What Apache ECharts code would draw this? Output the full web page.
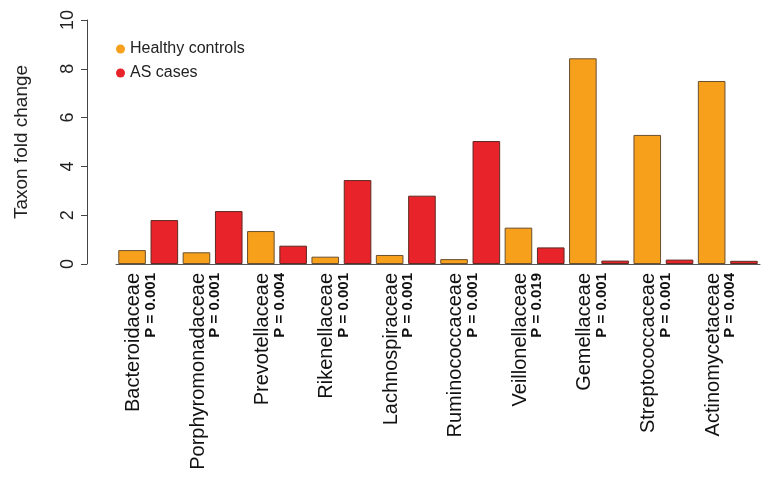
<!DOCTYPE html>
<html>
<head>
<meta charset="utf-8">
<script src="https://cdn.jsdelivr.net/npm/echarts@6/dist/echarts.min.js"></script>
<style>
  html, body { margin: 0; padding: 0; background: #fff; }
  #chart { width: 772px; height: 477px; }
</style>
</head>
<body>
<div id="chart"></div>
<script>
// Bacterial families and their P values
const families = ['Bacteroidaceae', 'Porphyromonadaceae', 'Prevotellaceae', 'Rikenellaceae',
  'Lachnospiraceae', 'Ruminococcaceae', 'Veillonellaceae', 'Gemellaceae',
  'Streptococcaceae', 'Actinomycetaceae'];
const pValues = ['0.001', '0.001', '0.004', '0.001', '0.001', '0.001', '0.019', '0.001', '0.001', '0.004'];

// Taxon fold change per group
const healthyControls = [0.57, 0.48, 1.35, 0.30, 0.37, 0.20, 1.49, 8.43, 5.29, 7.50];
const asCases = [1.80, 2.17, 0.75, 3.44, 2.80, 5.04, 0.68, 0.14, 0.18, 0.13];

const yTicks = [0, 2, 4, 6, 8, 10];

const font = 'Liberation Sans, Arial, Helvetica, sans-serif';
const chart = echarts.init(document.getElementById('chart'));

chart.setOption({
  backgroundColor: '#ffffff',
  animation: false,
  legend: {
    orient: 'vertical',
    left: 111,
    top: 36,
    icon: 'circle',
    itemWidth: 9,
    itemHeight: 9,
    itemGap: 8,
    itemTextGap: 11,
    itemStyle: { borderWidth: 0 },
    textStyle: { fontFamily: font, fontSize: 16, lineHeight: 16, color: '#222' },
    data: ['Healthy controls', 'AS cases']
  },
  grid: { left: 116, right: 12, top: 20, bottom: 213, containLabel: false },
  xAxis: {
    type: 'category',
    data: families,
    axisLine: { show: true, lineStyle: { color: '#555', width: 1 } },
    axisTick: { show: false },
    axisLabel: {
      interval: 0,
      rotate: 90,
      margin: 9,
      padding: [0, 0, 13, 0],
      formatter: (v, i) => '{n|' + v + '}\n{p|P = ' + pValues[i] + '}',
      rich: {
        n: { fontFamily: font, fontSize: 20, lineHeight: 18, color: '#111' },
        p: { fontFamily: font, fontSize: 15, fontWeight: 'bold', lineHeight: 16, color: '#111' }
      }
    }
  },
  yAxis: {
    type: 'value',
    min: yTicks[0],
    max: yTicks[yTicks.length - 1],
    interval: 2,
    offset: 29,
    name: 'Taxon fold change',
    nameLocation: 'middle',
    nameRotate: 90,
    nameGap: 56,
    nameTextStyle: { fontFamily: font, fontSize: 19, color: '#222' },
    axisLine: { show: true, lineStyle: { color: '#444', width: 1 } },
    axisTick: { show: true, length: 6, lineStyle: { color: '#444' } },
    axisLabel: { rotate: 90, margin: 10, fontFamily: font, fontSize: 18, color: '#222' },
    splitLine: { show: false }
  },
  series: [
    {
      name: 'Healthy controls',
      type: 'bar',
      data: healthyControls,
      barGap: '17%',
      barCategoryGap: '7%',
      itemStyle: { color: '#F6A01C', borderColor: '#6b5030', borderWidth: 1 }
    },
    {
      name: 'AS cases',
      type: 'bar',
      data: asCases,
      itemStyle: { color: '#E8232A', borderColor: '#5e2a22', borderWidth: 1 }
    }
  ]
});
</script>
</body>
</html>
